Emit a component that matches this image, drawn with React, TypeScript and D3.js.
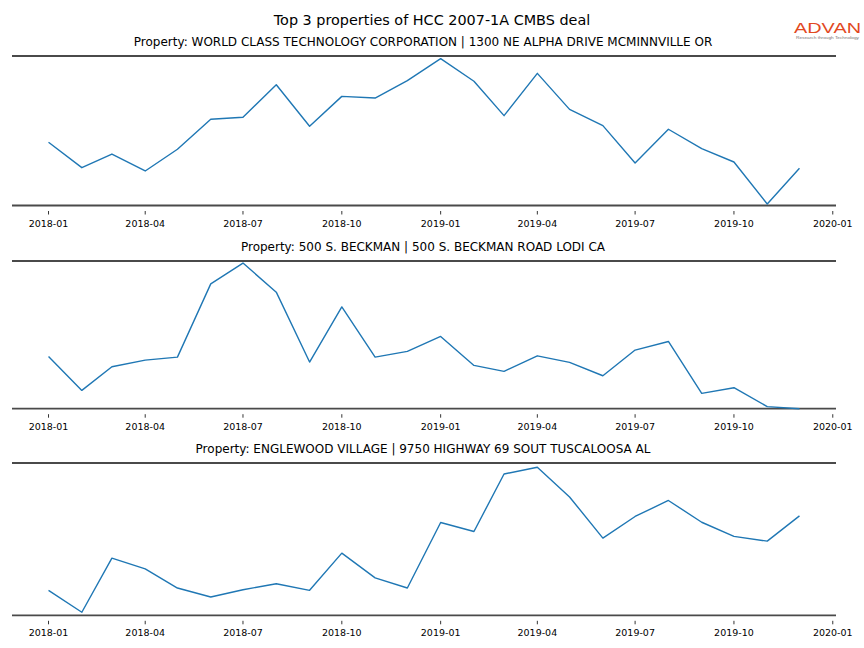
import React from "react";
import * as d3 from "d3";

const months: string[] = [
  "2018-01","2018-02","2018-03","2018-04","2018-05","2018-06","2018-07","2018-08","2018-09","2018-10","2018-11","2018-12",
  "2019-01","2019-02","2019-03","2019-04","2019-05","2019-06","2019-07","2019-08","2019-09","2019-10","2019-11","2019-12",
];

const worldClass: number[] = [42.3,25.3,34.4,23.1,37.6,57.7,59.0,80.8,53.0,73.0,71.9,83.5,98.2,83.1,60.1,88.4,64.3,53.4,28.4,51.0,38.0,29.1,1.0,24.9];
const beckman: number[] = [35.4,12.4,28.4,32.9,34.9,84.5,98.6,78.9,31.6,68.9,34.9,38.8,48.9,29.3,25.3,35.8,31.4,22.3,39.7,45.5,10.4,14.2,1.4,0];
const englewood: number[] = [16.4,2.0,37.5,30.5,17.9,12.0,16.8,20.7,16.4,40.8,24.6,17.9,60.9,55.0,92.8,97.2,77.7,50.7,64.9,75.4,61.1,51.8,48.7,65.3];

const subtitles: string[] = [
  "Property: WORLD CLASS TECHNOLOGY CORPORATION | 1300 NE ALPHA DRIVE MCMINNVILLE OR",
  "Property: 500 S. BECKMAN | 500 S. BECKMAN ROAD LODI CA",
  "Property: ENGLEWOOD VILLAGE | 9750 HIGHWAY 69 SOUT TUSCALOOSA AL",
];
const seriesList: number[][] = [worldClass, beckman, englewood];
const tickLabels: string[] = ["2018-01","2018-04","2018-07","2018-10","2019-01","2019-04","2019-07","2019-10","2020-01"];
const title = "Top 3 properties of HCC 2007-1A CMBS deal";

const W = 864, H = 648;
const panels = [
  { top: 56, bottom: 205.5 },
  { top: 261, bottom: 408.7 },
  { top: 463, bottom: 615.3 },
];
const FONT = "'DejaVu Sans', sans-serif";

export default function App() {
  const parse = d3.timeParse("%Y-%m");
  const dates = months.map((m) => parse(m) as Date);
  const tickDates = tickLabels.map((m) => parse(m) as Date);
  const x = d3
    .scaleTime()
    .domain([d3.timeDay.offset(dates[0], -34), d3.timeDay.offset(dates[dates.length - 1], 34)])
    .range([12, 836]);

  return (
    <svg width={W} height={H} style={{ position: "absolute", left: 0, top: 0, background: "#fff" }} fontFamily={FONT}>
      <rect width={W} height={H} fill="#fff" />
      <text x={432} y={24.8} textAnchor="middle" fontSize={14.4} fill="#000">{title}</text>
      {/* logo */}
      <text x={794} y={32.5} fontSize={14.5} fill="#e2491f" fontFamily="'Liberation Sans', Arial, sans-serif" textLength={67} lengthAdjust="spacingAndGlyphs">ADVAN</text>
      <text x={796} y={38.8} fontSize={4} fill="#777" fontFamily="'Liberation Sans', Arial, sans-serif" textLength={63} lengthAdjust="spacingAndGlyphs">Research through Technology</text>
      {panels.map((p, i) => {
        const y = d3.scaleLinear().domain([0, 100]).range([p.bottom, p.top]);
        const line = d3
          .line<number>()
          .x((_, j) => x(dates[j]))
          .y((v) => y(v));
        const [x0, x1] = x.range();
        return (
          <g key={i}>
            <text x={423} y={p.top - 10} textAnchor="middle" fontSize={12} fill="#000">{subtitles[i]}</text>
            <line x1={x0} x2={x1} y1={p.top} y2={p.top} stroke="#4a4a4a" strokeWidth={1.8} />
            <line x1={x0} x2={x1} y1={p.bottom} y2={p.bottom} stroke="#4a4a4a" strokeWidth={1.8} />
            <path d={line(seriesList[i]) || ""} fill="none" stroke="#1f77b4" strokeWidth={1.4} strokeLinejoin="round" />
            {tickDates.map((t, k) => (
              <g key={k} transform={`translate(${x(t)},0)`}>
                <line y1={p.bottom + 5.5} y2={p.bottom + 9} stroke="#000" strokeWidth={0.8} />
                <text y={p.bottom + 21} textAnchor="middle" fontSize={9.5} fill="#000">{tickLabels[k]}</text>
              </g>
            ))}
          </g>
        );
      })}
    </svg>
  );
}
